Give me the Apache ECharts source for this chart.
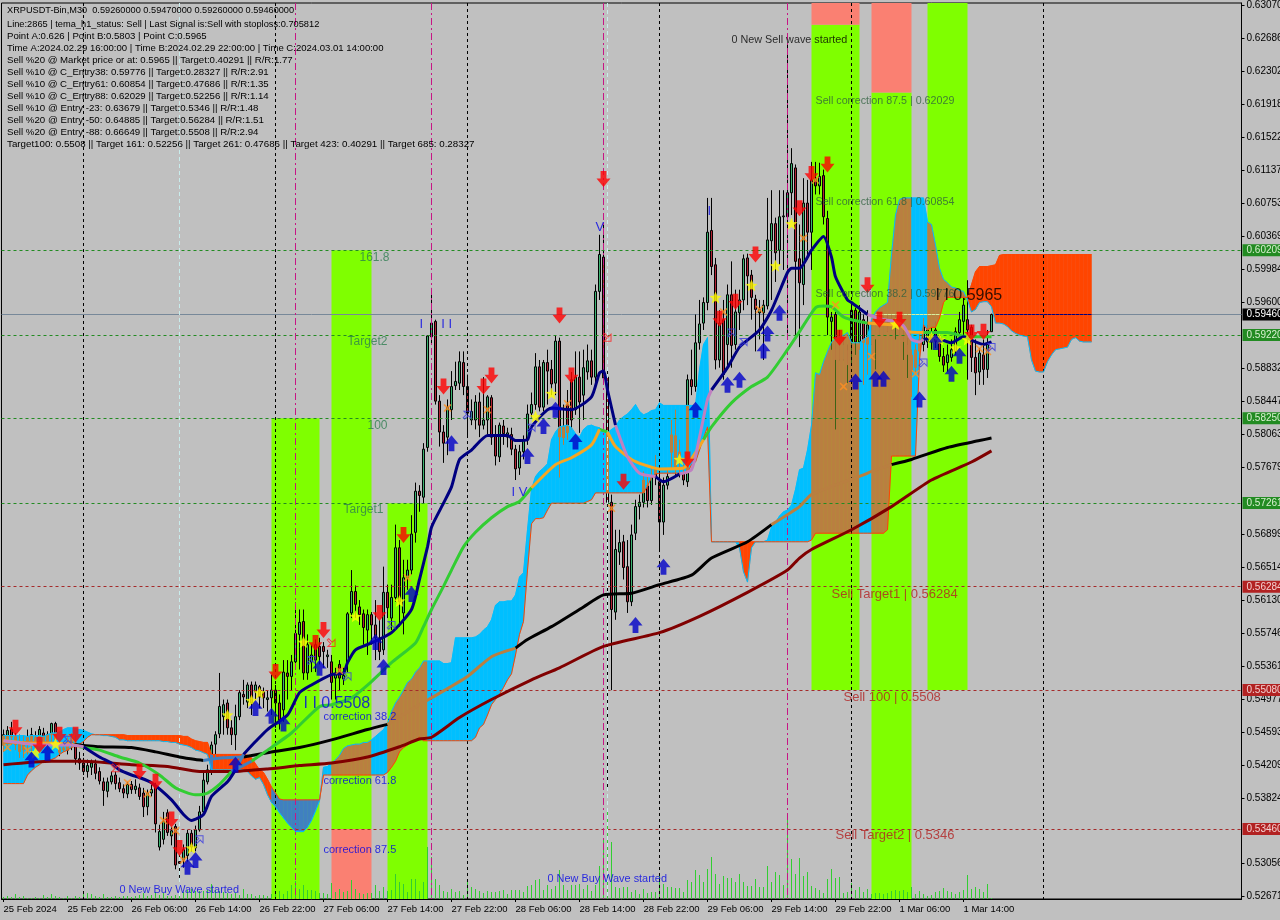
<!DOCTYPE html>
<html><head><meta charset="utf-8">
<style>html,body{margin:0;padding:0;background:#C0C0C0;overflow:hidden}#c{width:1280px;height:920px}</style>
<script src="https://cdn.jsdelivr.net/npm/echarts@6/dist/echarts.min.js"></script>
</head><body><div id="c"></div>
<script>
// all prices below are in units of 0.0001 unless stated otherwise
const timeLabels=['25 Feb 2024','25 Feb 22:00','26 Feb 06:00','26 Feb 14:00','26 Feb 22:00','27 Feb 06:00','27 Feb 14:00','27 Feb 22:00','28 Feb 06:00','28 Feb 14:00','28 Feb 22:00','29 Feb 06:00','29 Feb 14:00','29 Feb 22:00','1 Mar 06:00','1 Mar 14:00'];
const yTicks=[0.63070,0.62686,0.62302,0.61918,0.61522,0.61137,0.60753,0.60369,0.59984,0.59600,0.58832,0.58447,0.58063,0.57679,0.56899,0.56514,0.56130,0.55746,0.55361,0.54977,0.54593,0.54209,0.53824,0.53056,0.52671];
const greenLevels=[0.60209,0.5922,0.5825,0.57261];
const redLevels=[0.56284,0.5508,0.5346];
const lastPrice=0.5946;
const opens=[5444,5450,5462,5454,5436,5438,5453,5444,5453,5450,5458,5444,5456,5469,5441,5438,5438,5453,5447,5428,
5423,5413,5418,5422,5413,5401,5390,5401,5409,5400,5393,5387,5398,5392,5394,5388,5372,5388,5396,5325,
5334,5365,5338,5349,5308,5310,5315,5341,5324,5345,5366,5401,5415,5445,5457,5477,5493,5464,5456,5477,
5503,5494,5514,5506,5512,5506,5497,5499,5508,5493,5485,5528,5524,5541,5573,5588,5528,5541,5561,5559,
5559,5547,5541,5522,5538,5521,5540,5598,5623,5605,5597,5578,5596,5584,5569,5555,5622,5592,5616,5674,
5598,5639,5648,5692,5740,5733,5791,5920,5938,5845,5809,5803,5835,5863,5866,5890,5862,5823,5823,5844,
5817,5823,5849,5805,5780,5816,5803,5806,5789,5767,5786,5800,5831,5841,5885,5838,5890,5882,5866,5915,
5802,5841,5870,5835,5873,5852,5879,5892,5873,5973,6013,5873,5727,5599,5669,5681,5652,5611,5691,5722,
5727,5747,5729,5767,5751,5704,5747,5785,5805,5777,5761,5751,5870,5862,5913,5936,5960,6044,6004,5893,
5940,5911,5969,5911,5948,5963,6012,5992,5964,5948,5948,5956,6032,6052,6021,6060,6060,6088,6117,6011,
5981,6076,6042,6105,6096,6108,6058,5938,5946,5911,5893,5905,5914,5951,5914,5940,5911,5928,5917,5940,
5922,5940,5928,5942,5940,5922,5911,5899,5884,5903,5911,5914,5914,5928,5914,5897,5890,5896,5903,5925,
5938,5940,5931,5896,5879,5899,5882,5926];
const closes=[5456,5461,5453,5444,5448,5445,5445,5456,5444,5462,5448,5456,5469,5450,5435,5441,5447,5444,5428,5423,
5413,5420,5423,5411,5402,5391,5401,5408,5399,5393,5388,5398,5392,5396,5384,5372,5388,5392,5352,5343,
5355,5342,5344,5304,5306,5322,5341,5325,5345,5366,5403,5415,5444,5456,5489,5491,5464,5456,5477,5505,
5500,5514,5493,5514,5500,5499,5499,5508,5493,5473,5529,5524,5541,5574,5587,5528,5561,5549,5543,5547,
5553,5549,5517,5528,5522,5525,5597,5623,5608,5596,5581,5596,5584,5569,5553,5622,5604,5616,5674,5611,
5639,5648,5690,5740,5735,5789,5921,5936,5845,5809,5796,5838,5862,5868,5891,5862,5831,5833,5844,5817,
5823,5850,5803,5781,5817,5807,5808,5789,5766,5786,5800,5830,5841,5885,5838,5890,5880,5865,5915,5803,
5815,5808,5823,5873,5844,5884,5892,5873,5973,6016,5872,5727,5602,5672,5680,5651,5611,5689,5722,5727,
5753,5729,5757,5756,5704,5747,5757,5806,5765,5786,5753,5870,5862,5913,5935,5960,6042,6002,5893,5936,
5876,5969,5910,5949,5963,6011,5991,5966,5952,5952,5957,6033,6052,6018,6060,6061,6088,6122,6008,5983,
6076,6042,6103,6096,6107,6060,5943,5943,5893,5893,5911,5887,5951,5914,5949,5913,5934,5911,5934,5922,
5938,5926,5942,5931,5922,5914,5899,5879,5905,5917,5934,5928,5922,5914,5897,5887,5899,5905,5926,5940,
5957,5928,5896,5878,5901,5882,5911,5946];
const highs=[5462,5466,5471,5458,5456,5455,5462,5464,5460,5466,5464,5460,5470,5471,5448,5446,5453,5458,5456,5436,
5429,5427,5427,5427,5418,5406,5406,5413,5413,5406,5398,5401,5402,5404,5399,5394,5392,5398,5400,5351,
5366,5369,5348,5352,5316,5328,5345,5345,5350,5373,5413,5421,5448,5460,5528,5497,5497,5473,5491,5508,
5520,5517,5518,5518,5514,5511,5508,5526,5514,5503,5543,5543,5549,5610,5602,5602,5573,5561,5567,5569,
5564,5555,5549,5534,5543,5534,5599,5648,5630,5613,5602,5602,5599,5613,5590,5652,5631,5631,5701,5683,
5660,5660,5712,5750,5747,5796,5922,5977,5940,5852,5817,5847,5880,5891,5903,5903,5876,5847,5852,5855,
5873,5852,5852,5817,5820,5823,5814,5814,5794,5794,5805,5841,5855,5901,5893,5893,5905,5893,5921,5919,
5841,5858,5879,5903,5903,5905,5911,5905,5981,6039,6053,5882,5736,5695,5695,5689,5683,5701,5730,5736,
5763,5759,5767,5782,5765,5756,5765,5823,5835,5800,5771,5876,5905,5946,5963,5966,6082,6082,6012,5951,
5963,5981,6008,5975,5975,6016,6017,5998,5969,5963,5963,6082,6091,6059,6091,6091,6263,6140,6121,6051,
6105,6103,6124,6124,6123,6115,6067,5949,5949,5928,5922,5911,5957,5954,5957,5946,5951,5940,5940,5946,
5945,5945,5946,5945,5942,5928,5919,5905,5911,5925,5942,5934,5931,5938,5922,5907,5911,5917,5931,5949,
5969,5986,5934,5917,5907,5917,5928,5947];
const lows=[5436,5443,5444,5438,5429,5429,5433,5436,5435,5443,5441,5438,5448,5444,5431,5436,5433,5438,5421,5415,
5409,5406,5409,5404,5398,5373,5383,5398,5392,5389,5382,5382,5387,5387,5380,5360,5362,5384,5342,5321,
5328,5338,5327,5299,5289,5301,5308,5320,5320,5343,5363,5398,5409,5427,5452,5456,5456,5444,5438,5473,
5491,5487,5479,5497,5487,5487,5483,5479,5464,5462,5471,5497,5508,5534,5532,5520,5520,5529,5529,5538,
5534,5534,5497,5497,5508,5514,5529,5592,5592,5584,5561,5549,5561,5543,5543,5549,5592,5578,5611,5582,
5573,5625,5643,5680,5716,5726,5786,5911,5841,5792,5773,5782,5823,5858,5858,5852,5803,5817,5812,5803,
5812,5806,5794,5770,5774,5794,5791,5782,5753,5759,5777,5794,5826,5835,5833,5833,5841,5852,5852,5756,
5794,5800,5812,5829,5808,5823,5870,5864,5864,5963,5864,5395,5508,5590,5654,5637,5598,5606,5683,5707,
5721,5721,5724,5747,5669,5689,5742,5765,5759,5756,5747,5745,5852,5856,5905,5928,5951,5992,5882,5884,
5870,5882,5884,5905,5928,5951,5957,5940,5903,5917,5893,5952,5963,5984,6004,5998,5922,6062,5917,5908,
5957,6010,5998,6086,6086,6051,5922,5905,5812,5893,5893,5866,5887,5899,5905,5864,5876,5911,5882,5922,
5922,5926,5928,5917,5922,5893,5872,5850,5876,5893,5903,5907,5905,5907,5891,5879,5879,5891,5899,5917,
5922,5870,5879,5852,5864,5864,5872,5926];
const volumes=[2,3,2,5,2,3,1,1,2,1,4,2,5,3,2,1,3,1,3,2,5,6,5,3,2,5,2,2,3,2,3,3,2,3,4,6,3,4,7,4,6,3,3,4,6,7,9,10,8,8,8,9,15,9,8,7,6,5,6,4,10,5,5,3,4,4,3,5,8,8,5,8,14,18,10,14,9,9,8,6,6,5,16,7,10,7,8,19,10,6,5,6,6,14,8,12,8,9,25,17,15,7,20,20,8,17,52,42,20,14,8,7,10,7,8,4,20,12,10,8,6,8,7,7,8,
9,5,9,9,9,7,13,14,19,20,9,14,10,13,29,14,9,14,14,15,10,14,8,14,33,60,90,57,12,11,12,12,7,9,5,10,6,7,7,25,15,12,12,11,11,7,19,17,29,24,17,30,42,25,15,23,21,21,17,25,17,13,13,20,12,12,33,17,27,24,14,80,40,25,41,23,27,13,11,9,6,20,30,21,22,6,7,16,9,12,7,10,5,6,6,5,6,8,9,8,9,7,12,5,8,5,3,4,7,8,11,8,7,5,7,9,24,10,12,10,7,15,1];
const spanA=[5455,5455,5455,5455,5455,5455,5454,5455,5455,5455,5454,5456,5458,5458,5459,5462,5464,5464,5463,5462,5461,5459,5457,5456,5456,5455,5455,5454,5453,5450,5450,
5449,5449,5449,5449,5449,5449,5449,5449,5449,5448,5448,5447,5447,5445,5444,5443,5441,5438,5437,5435,5433,
5415,5415,5415,5415,5415,5415,5415,5415,5415,5413,5408,5404,5406,5398,5386,5377,5372,5365,5359,5353,5348,5343,5343,5343,5348,5356,5367,5379,
5418,5419,5423,5427,5432,5440,5443,5444,5445,5445,5447,5447,5450,5454,5458,5462,5469,5483,5493,5500,5508,5517,5521,5529,5534,5542,5542,5542,5542,5542,5539,5539,5540,5569,5569,5569,5569,5569,5570,5573,5578,5582,5590,5607,5611,5611,5612,5612,5619,5640,5645,5695,5742,5757,5763,5767,5772,5800,5809,5815,5816,5817,5814,5807,5803,5812,5816,5817,5815,5814,5810,5808,5812,5815,5823,5827,5830,5835,5841,5833,5829,5831,5834,5835,5843,5840,5840,5840,5840,5840,5840,5840,5840,5840,5882,5911,5919,
5681,5681,5681,5681,5681,5681,5681,5674,5646,5634,5674,5681,5681,5681,5683,5698,5704,5711,5716,5718,5724,5742,5765,5767,5788,5817,5878,5876,5891,5903,5914,5918,5920,5922,5925,5913,5913,5913,5917,5920,5940,5949,5954,5957,5960,6016,6062,6080,6082,6082,6082,6082,6082,6082,6054,6051,6027,6000,5987,5983,5978,5977,5974,5973,5963,
5949,5952,5960,5961,5961,5955,5936,5936,5935,5932,5927,5924,5922,5921,5920,5893,5880,5879,5879,5891,5899,5905,5906,5907,5908,5917,5919,5915,5914,5914,5914];
const spanB=[5399,5399,5399,5399,5399,5399,5409,5414,5418,5421,5425,5426,5427,5429,5433,5436,5438,5441,5443,5445,5448,5453,5456,5456,5456,5456,5456,5456,5456,5456,5456,
5455,5455,5455,5455,5455,5455,5455,5455,5455,5455,5455,5455,5455,5455,5454,5454,5451,5449,5448,5447,5447,
5433,5433,5433,5433,5433,5433,5433,5433,5433,5432,5429,5422,5415,5412,5404,5395,5388,5381,5380,5380,5380,5380,5380,5380,5380,5380,5380,5380,
5409,5409,5409,5409,5409,5409,5409,5409,5409,5409,5409,5409,5409,5409,5409,5409,5412,5418,5425,5436,5441,5444,5448,5450,5453,5449,5449,5449,5449,5449,5449,5449,5449,5449,5449,5449,5449,5449,5453,5464,5468,5479,5491,5497,5503,5511,5520,5527,5549,5573,5588,5648,5702,5708,5708,5709,5718,5726,5726,5726,5726,5726,5726,5726,5726,5726,5728,5730,5738,5738,5738,5738,5738,5738,5738,5738,5738,5738,5738,5738,5738,5746,5756,5760,5761,5761,5761,5761,5761,5761,5761,5761,5771,5774,5788,5802,5815,
5681,5681,5681,5681,5681,5681,5681,5681,5681,5681,5681,5681,5681,5681,5681,5681,5681,5681,5681,5681,5681,5681,5681,5681,5681,5683,5691,5691,5691,5691,5691,5691,5691,5691,5691,5691,5691,5691,5691,5691,5691,5691,5691,5691,5695,5781,5781,5781,5781,5781,5781,5781,5893,5934,5928,5931,5931,5942,5960,5966,5966,5966,5966,5966,5966,
5981,5996,6002,6002,6002,6003,6004,6015,6016,6016,6016,6016,6016,6016,6016,6016,6016,6016,6016,6016,6016,6016,6016,6016,6016,6016,6016,6016,6016,6016,6016];
// moving averages as [bar, price]
const navyLine=[[0,5449],[7,5445],[12,5444],[17,5444],[20,5442],[24,5430],[27,5423],[29,5415],[32,5409],[34,5406],[37,5400],[42,5380],[45,5363],[47,5356],[50,5363],[52,5384],[56,5401],[58,5415],[60,5433],[63,5448],[66,5462],[71,5479],[74,5505],[77,5514],[82,5526],[85,5528],[86,5540],[88,5555],[92,5563],[97,5575],[102,5602],[104,5637],[106,5675],[107,5698],[110,5726],[112,5745],[114,5777],[117,5788],[121,5805],[126,5805],[128,5799],[131,5800],[132,5815],[137,5837],[142,5835],[147,5850],[149,5878],[150,5880],[151,5858],[153,5817],[156,5780],[159,5761],[163,5757],[165,5751],[169,5760],[172,5765],[174,5803],[176,5847],[177,5858],[181,5884],[184,5908],[189,5928],[192,5951],[196,5995],[197,6000],[199,6000],[202,6021],[205,6037],[207,6013],[208,5990],[211,5963],[212,5960],[216,5946],[220,5940],[223,5938],[225,5933],[227,5917],[229,5914],[230,5917],[233,5919],[237,5913],[240,5920],[243,5914],[245,5911],[247,5914]];
const greenLine=[[0,5449],[7,5446],[12,5446],[17,5445],[19,5442],[24,5438],[29,5430],[34,5423],[39,5409],[43,5394],[48,5386],[51,5388],[54,5398],[57,5413],[62,5425],[66,5438],[72,5458],[79,5489],[82,5491],[87,5499],[92,5518],[97,5540],[103,5563],[105,5582],[107,5602],[110,5629],[112,5648],[115,5675],[118,5692],[122,5709],[126,5722],[129,5728],[132,5744],[138,5771],[142,5779],[147,5794],[149,5812],[151,5809],[153,5792],[157,5777],[160,5771],[164,5766],[170,5767],[173,5785],[175,5800],[177,5815],[182,5843],[187,5862],[191,5873],[196,5905],[199,5926],[203,5954],[205,5956],[207,5955],[210,5943],[212,5940],[216,5936],[222,5934],[224,5935],[226,5926],[230,5925],[236,5925],[241,5920],[247,5920]];
const blackLine=[[0,5447],[8,5447],[17,5445],[24,5442],[32,5441],[38,5436],[44,5430],[48,5427],[50,5426],[55,5429],[60,5430],[66,5435],[74,5441],[82,5450],[91,5462],[96,5468],[104,5491],[107,5499],[116,5524],[122,5547],[128,5557],[131,5567],[137,5582],[145,5605],[150,5619],[157,5621],[164,5631],[172,5642],[177,5662],[186,5681],[192,5701],[199,5722],[202,5736],[215,5759],[217,5763],[222,5771],[227,5777],[236,5791],[244,5799],[247,5802]];
const maroonLine=[[0,5421],[12,5425],[20,5425],[32,5421],[41,5419],[49,5413],[57,5413],[66,5416],[74,5420],[82,5423],[91,5430],[99,5442],[104,5451],[107,5453],[114,5476],[122,5497],[132,5520],[139,5534],[150,5559],[164,5575],[174,5594],[186,5622],[196,5648],[199,5662],[202,5672],[212,5695],[222,5722],[232,5753],[242,5774],[247,5787]];
// signal markers as [bar, price]
const sellArrows=[[3,5464],[9,5444],[14,5456],[18,5456],[34,5413],[38,5401],[42,5357],[44,5324],[68,5529],[78,5563],[80,5578],[94,5598],[100,5689],[110,5862],[120,5862],[122,5875],[139,5945],[142,5875],[150,6104],[155,5751],[171,5777],[179,5941],[183,5961],[188,6016],[199,6070],[202,6110],[206,6121],[209,5919],[216,5980],[219,5940],[224,5940],[242,5925],[245,5926]];
const buyArrows=[[7,5427],[11,5435],[46,5302],[48,5310],[58,5421],[63,5487],[67,5478],[70,5469],[79,5534],[93,5564],[95,5535],[102,5620],[112,5796],[131,5781],[135,5816],[138,5835],[143,5798],[158,5584],[165,5652],[173,5835],[181,5864],[184,5870],[190,5904],[191,5924],[194,5948],[213,5868],[218,5871],[220,5871],[229,5847],[233,5914],[237,5877],[239,5898]];
const stars=[[8,5435],[13,5445],[47,5324],[56,5479],[62,5496],[64,5505],[75,5564],[88,5594],[99,5612],[133,5827],[137,5854],[169,5777],[178,5966],[187,5980],[193,6003],[197,6052],[223,5935],[232,5919],[234,5917],[238,5907],[241,5917]];
const crosses=[[1,5441],[6,5438],[17,5452],[31,5400],[36,5387],[40,5356],[43,5344],[45,5310],[84,5531],[101,5639],[111,5837],[121,5835],[141,5842],[152,5720],[180,5949],[189,5952],[200,6035],[203,6103],[208,5957],[210,5862],[217,5897],[228,5877],[244,5906],[246,5903]];
const hollowBuy=[[16,5450],[49,5334],[77,5543],[86,5524],[97,5584],[116,5829],[132,5814],[182,5925],[185,5914],[230,5890],[247,5908]];
const hollowSell=[[28,5417],[82,5563],[151,5919]];
// [first bar, last bar, top price, bottom price, kind]; null = chart edge
const zones=[[67,79,5825,null,'g'],[82,92,6021,5346,'g'],[82,92,5346,null,'s'],[96,106,5726,null,'g'],[202,214,6284,5508,'g'],[202,214,null,6284,'s'],[217,227,6205,null,'g'],[217,227,null,6205,'s'],[231,241,null,5508,'g']];
const dayLines=[20,68,116,164,212,260];
const waveLines=[73,107,150,196];
const paleLines=[44,151];
const headerLines=['XRPUSDT-Bin,M30  0.59260000 0.59470000 0.59260000 0.59460000','Line:2865 | tema_h1_status: Sell | Last Signal is:Sell with stoploss:0.705812','Point A:0.626 | Point B:0.5803 | Point C:0.5965','Time A:2024.02.29 16:00:00 | Time B:2024.02.29 22:00:00 | Time C:2024.03.01 14:00:00','Sell %20 @ Market price or at: 0.5965 || Target:0.40291 || R/R:1.77','Sell %10 @ C_Entry38: 0.59776 || Target:0.28327 || R/R:2.91','Sell %10 @ C_Entry61: 0.60854 || Target:0.47686 || R/R:1.35','Sell %10 @ C_Entry88: 0.62029 || Target:0.52256 || R/R:1.14','Sell %10 @ Entry -23: 0.63679 || Target:0.5346 || R/R:1.48','Sell %20 @ Entry -50: 0.64885 || Target:0.56284 || R/R:1.51','Sell %20 @ Entry -88: 0.66649 || Target:0.5508 || R/R:2.94','Target100: 0.5508 || Target 161: 0.52256 || Target 261: 0.47686 || Target 423: 0.40291 || Target 685: 0.28327'];
const headerSizes=[9.2,9.28,9.6,9.55,9.65,9.65,9.65,9.65,9.7,9.7,9.7,9.75];
// [text, bar, price, colour, size]
const SEA='#2E7D50',DEEP='#30603F',BLU='#0000E6',FIRE='#B22222';
const notes=[['0 New Sell wave started',182,6266,'#000',10.8],['Sell correction 87.5 | 0.62029',203,6195,DEEP,10.7],['Sell correction 61.8 | 0.60854',203,6077,DEEP,10.7],['Sell correction 38.2 | 0.59776',203,5970,DEEP,10.7],['161.8',89,6012,SEA,12],['Target2',86,5914,SEA,12],['100',91,5816,SEA,12],['Target1',85,5718,SEA,12],['Sell Target1 | 0.56284',207,5620,FIRE,13],['Sell 100 | 0.5508',210,5500,FIRE,13],['Sell Target2 | 0.5346',208,5338,FIRE,13],['correction 38.2',80,5477,BLU,11],['correction 61.8',80,5402,BLU,11],['correction 87.5',80,5321,BLU,11],['0 New Buy Wave started',29,5275,BLU,10.9],['0 New Buy Wave started',136,5288,BLU,10.9],['I I 0.5508',75,5492,BLU,16],['I I 0.5965',233,5968,'#000',16],['I     I I',104,5935,BLU,13],['I V',127,5739,BLU,13],['V',148,6047,BLU,13],['I',176,6066,BLU,13]];

const FONT='"Liberation Sans",Arial,sans-serif';
const SLOTS=310, yMin=0.52644, yMax=0.63093;
const C={bg:'#C0C0C0',green:'#7FFF00',salmon:'#FA8072',blue:'#00BFFF',orange:'#FF4500',brown:'#B97F40',steel:'#4080C0',up:'#3CB371',down:'#B22234'};
const P=v=>v/1e4;
const pts=a=>a.map(d=>[d[0],P(d[1])]);
const categories=Array.from({length:SLOTS},(_,i)=>i%16===0&&timeLabels[i/16]?timeLabels[i/16]:'');
const inZone=i=>zones.some(z=>z[4]==='g'&&i>=z[0]&&i<z[1]);

// one moving average becomes a plain run plus runs through the cloud, each drawn by its own line series
function splitLine(line,name,width,z,plain,inBull,inBear){
  const parts={plain:[],bull:[],bear:[]};let prev=null;
  for(let k=0;k<line.length-1;k++){
    const a=line[k],b=line[k+1],m=Math.floor((a[0]+b[0])/2),v=(a[1]+b[1])/2;
    const A=spanA[m],B=spanB[m];
    const inside=v<=Math.max(A,B)&&v>=Math.min(A,B);
    const key=inside?(A>=B?'bull':'bear'):'plain';
    if(key!==prev){
      if(parts[key].length)parts[key].push([a[0],'-']);
      parts[key].push([a[0],P(a[1])]);
    }
    parts[key].push([b[0],P(b[1])]);
    prev=key;
  }
  const colors={plain,bull:inBull,bear:inBear};
  return Object.keys(parts).map(n=>({name:name+'-'+n,type:'line',data:parts[n],showSymbol:false,symbol:'none',connectNulls:false,smooth:0.2,z,
    lineStyle:{color:colors[n],width},itemStyle:{color:colors[n]},animation:false,silent:true}));
}
const dArrow='path://M3.5,0 H8.5 V6 H12 L6,13 L0,6 H3.5 Z';
const uArrow='path://M6,0 L12,7 H8.5 V13 H3.5 V7 H0 Z';
const starPath='path://M5,0 L6.5,3.6 L10,3.8 L7.3,6.1 L8.1,10 L5,7.9 L1.9,10 L2.7,6.1 L0,3.8 L3.5,3.6 Z';
const xPath='path://M1,0 L4,2.6 L7,0 L8,1 L5.2,4 L8,7 L7,8 L4,5.4 L1,8 L0,7 L2.8,4 L0,1 Z';
const hollow='path://M0,4 H5 V0 L10,5 L5,10 V6 H0 Z';
const marks=(name,d,symbol,size,color,z,extra)=>Object.assign({name,type:'scatter',data:pts(d),symbol,symbolSize:size,z,silent:true,animation:false,itemStyle:{color}},extra||{});

// horizontal levels and vertical separators, positioned through the axes
const hLines=(list,color,dash)=>list.map(v=>[0,v,color,dash]);
const levelRows=[...hLines(greenLevels,'#228B22',[3,3]),...hLines(redLevels,'#A52A2A',[3,3])];
const vRows=[...dayLines.map(b=>[b,'#000',[3,3]]),...waveLines.map(b=>[b,'#C71585',[7,3,2,3]]),...paleLines.map(b=>[b,'#C8ECEC',[4,3]])];
const hRender=rows=>(p,api)=>{const r=rows[api.value(0)],cs=p.coordSys,y=Math.floor(api.coord([0,r[1]])[1])+0.5;
  return {type:'line',shape:{x1:cs.x,y1:y,x2:cs.x+cs.width,y2:y},style:{stroke:r[2],lineWidth:1,lineDash:r[3]}};};
const vRender=(p,api)=>{const r=vRows[api.value(0)],cs=p.coordSys,x=Math.floor(api.coord([r[0],yMax])[0])+0.5;
  return {type:'line',shape:{x1:x,y1:cs.y,x2:x,y2:cs.y+cs.height},style:{stroke:r[1],lineWidth:1,lineDash:r[2]}};};
const priceRows=[[0,lastPrice,'#778899',null]];

const option={
  animation:false,backgroundColor:C.bg,
  grid:{left:1.5,top:3,width:1240,height:896,show:true,backgroundColor:C.bg,borderColor:'#000',borderWidth:1,containLabel:false,outerBoundsMode:'none'},
  xAxis:{type:'category',data:categories,boundaryGap:true,
    axisLine:{show:true,lineStyle:{color:'#000'}},
    axisTick:{show:true,alignWithLabel:true,length:3,lineStyle:{color:'#000'},interval:i=>i%16===0&&i<=240},
    axisLabel:{interval:15,align:'left',margin:5,color:'#000',fontFamily:FONT,fontSize:9.5},splitLine:{show:false}},
  yAxis:[{type:'value',position:'right',min:yMin,max:yMax,scale:true,
    axisLine:{show:true,lineStyle:{color:'#000'}},
    axisTick:{show:true,length:3,lineStyle:{color:'#000'},customValues:yTicks},
    splitLine:{show:false},
    axisLabel:{customValues:yTicks.concat(greenLevels,redLevels,[lastPrice]),margin:1,hideOverlap:false,
      formatter:v=>{const s=v.toFixed(6);if(greenLevels.includes(v))return '{g|'+s+'}';if(redLevels.includes(v))return '{r|'+s+'}';if(v===lastPrice)return '{k|'+s+'}';return '{n|'+s+'}';},
      rich:{n:{color:'#000',fontFamily:FONT,fontSize:10,padding:[0,0,0,4]},
        g:{color:'#D8F0D0',backgroundColor:'#228B22',fontFamily:FONT,fontSize:10,padding:[1,2,1,4]},
        r:{color:'#F4D0D0',backgroundColor:'#B22222',fontFamily:FONT,fontSize:10,padding:[1,2,1,4]},
        k:{color:'#FFF',backgroundColor:'#000',fontFamily:FONT,fontSize:10,padding:[1,2,1,4]}}}},
    {type:'value',show:false,min:0,max:896,position:'left',splitLine:{show:false}}],
  graphic:headerLines.map((t,i)=>({type:'text',left:7,top:(i===0?5.5:7)+i*12+(i?0.5:0),z:100,silent:true,
    style:{text:t,fill:'#000',font:headerSizes[i]+'px '+FONT}})),
  series:[
    {name:'zones',type:'custom',z:1,clip:true,silent:true,animation:false,data:zones.map((z,i)=>[z[0],i]),encode:{x:0,y:-1},
      renderItem:(p,api)=>{const z=zones[api.value(1)];
        const t=z[2]===null?yMax:P(z[2]),b=z[3]===null?yMin:P(z[3]);
        const a=api.coord([z[0],t]),c=api.coord([z[1],b]);
        return {type:'rect',shape:{x:a[0],y:a[1],width:c[0]-a[0],height:c[1]-a[1]},style:{fill:z[4]==='g'?C.green:C.salmon}};}},
    {name:'volume',type:'custom',yAxisIndex:1,z:2,silent:true,animation:false,data:volumes.map((v,i)=>[i,v]),encode:{x:0,y:1},
      renderItem:(p,api)=>{const t=api.coord([api.value(0),api.value(1)]),b=api.coord([api.value(0),0]),x=Math.floor(t[0])+0.5;
        return {type:'line',shape:{x1:x,y1:t[1],x2:x,y2:b[1]},style:{stroke:'#32CD32',lineWidth:1}};}},
    {name:'price',type:'custom',z:2,silent:true,animation:false,data:priceRows.map((_,i)=>[i]),encode:{x:0,y:-1},renderItem:hRender(priceRows)},
    {name:'candles',type:'candlestick',z:3,silent:true,animation:false,barWidth:2,
      data:opens.map((o,i)=>[P(o),P(closes[i]),P(lows[i]),P(highs[i])]),
      itemStyle:{color:C.up,color0:C.down,borderColor:'#000',borderColor0:'#000',borderWidth:1}},
    {name:'cloud',type:'custom',z:4,clip:true,silent:true,animation:false,data:spanA.slice(0,-1).map((_,i)=>[i]),encode:{x:0,y:-1},
      renderItem:(p,api)=>{
        const i=api.value(0),bull=spanA[i]>=spanB[i],zone=inZone(i);
        const col=bull?(zone?C.brown:C.blue):(zone?C.steel:C.orange);
        const at=(b,v)=>api.coord([b,P(v)]);
        const kids=[{type:'polygon',shape:{points:[at(i,spanA[i]),at(i+1,spanA[i+1]),at(i+1,spanB[i+1]),at(i,spanB[i])]},style:{fill:col,stroke:col,lineWidth:0.5}}];
        const hi=Math.max(spanA[i],spanB[i]),lo=Math.min(spanA[i],spanB[i]);
        const pv=lastPrice*1e4;
        if(pv<=hi&&pv>=lo){const a=at(i,pv),b=at(i+1,pv);
          kids.push({type:'line',shape:{x1:a[0],y1:Math.floor(a[1])+0.5,x2:b[0],y2:Math.floor(a[1])+0.5},style:{stroke:bull?'#D8F0A0':'#000080',lineWidth:1}});}
        if(i<opens.length){
          const bodyHi=Math.max(opens[i],closes[i]),bodyLo=Math.min(opens[i],closes[i]);
          const wt=Math.min(zone&&bull?bodyLo:highs[i],hi),wb=Math.max(lows[i],lo);
          const x=Math.floor(at(i,hi)[0])+0.5;
          if(wt>wb){kids.push({type:'line',shape:{x1:x,y1:at(i,wt)[1],x2:x,y2:at(i,wb)[1]},
            style:{stroke:bull?(zone?'#3C6414':C.brown):C.steel,lineWidth:1}});}
          const bt=Math.min(bodyHi,hi),bb=Math.max(bodyLo,lo);
          if(bt>bb&&!zone){const a=at(i,bt),b=at(i,bb);
            kids.push({type:'rect',shape:{x:x-1.5,y:a[1],width:3,height:b[1]-a[1]},style:{fill:bull?C.brown:C.steel}});}
        }
        return {type:'group',children:kids};
      }},
    {name:'spanA',type:'line',z:5,data:spanA.map(P),showSymbol:false,symbol:'none',silent:true,animation:false,lineStyle:{color:C.blue,width:1},itemStyle:{color:C.blue}},
    {name:'spanB',type:'line',z:5,data:spanB.map(P),showSymbol:false,symbol:'none',silent:true,animation:false,lineStyle:{color:C.orange,width:1},itemStyle:{color:C.orange}},
    {name:'levels',type:'custom',z:5,silent:true,animation:false,data:levelRows.map((_,i)=>[i]),encode:{x:0,y:-1},renderItem:hRender(levelRows)},
    {name:'separators',type:'custom',z:5,silent:true,animation:false,data:vRows.map((_,i)=>[i]),encode:{x:0,y:-1},renderItem:vRender},
    {name:'maroon',type:'line',data:pts(maroonLine),z:6,showSymbol:false,symbol:'none',smooth:0.2,silent:true,animation:false,lineStyle:{color:'#800000',width:3},itemStyle:{color:'#800000'}},
    ...splitLine(blackLine,'black',3,6,'#000',C.brown,C.steel),
    ...splitLine(greenLine,'green',3,6,'#32CD32','#F5A623',C.steel),
    ...splitLine(navyLine,'navy',3,6,'#000080','#C080C0',C.steel),
    marks('crosses',crosses,xPath,[8,8],'#FF9020',7),
    marks('stars',stars,starPath,[12,12],'#FFFF00',7),
    marks('sell',sellArrows,dArrow,[14,16],'#FF0000',8),
    marks('buy',buyArrows,uArrow,[14,16],'#0000C8',8),
    marks('hollowBuy',hollowBuy,hollow,[10,10],'rgba(0,0,0,0)',8,{symbolRotate:45,itemStyle:{color:'rgba(0,0,0,0)',borderColor:'#3A3AE0',borderWidth:1}}),
    marks('hollowSell',hollowSell,hollow,[10,10],'rgba(0,0,0,0)',8,{symbolRotate:-45,itemStyle:{color:'rgba(0,0,0,0)',borderColor:'#FF2020',borderWidth:1}}),
    {name:'notes',type:'scatter',z:9,silent:true,animation:false,symbolSize:0,clip:false,
      data:notes.map(n=>({value:[n[1],P(n[2])],label:{show:true,position:'right',distance:0,formatter:()=>n[0],color:n[3],fontSize:n[4],fontFamily:FONT}}))}
  ]
};
echarts.init(document.getElementById('c'),null,{renderer:'canvas'}).setOption(option);
</script></body></html>
